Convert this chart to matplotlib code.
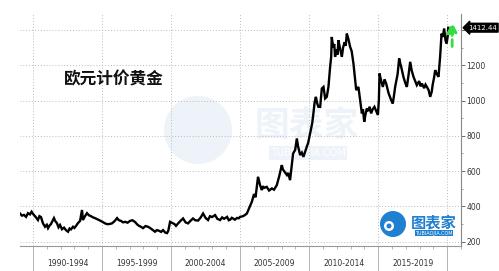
import matplotlib
matplotlib.use('Agg')
import matplotlib.pyplot as plt
from matplotlib.patches import Ellipse
from matplotlib.ticker import MultipleLocator

# EUR gold price (decimal year, price)
years = [1989.06, 1989.20, 1989.35, 1989.50, 1989.64, 1989.78, 1989.90, 1990.00, 1990.07, 1990.20,
         1990.36, 1990.47, 1990.58, 1990.72, 1990.87, 1991.00, 1991.09, 1991.20, 1991.30, 1991.42,
         1991.52, 1991.62, 1991.74, 1991.85, 1991.96, 1992.10, 1992.25, 1992.40, 1992.54, 1992.65,
         1992.75, 1992.90, 1993.00, 1993.12, 1993.26, 1993.41, 1993.50, 1993.55, 1993.62, 1993.77,
         1993.91, 1994.05, 1994.20, 1994.35, 1994.49, 1994.68, 1994.86, 1995.05, 1995.22, 1995.36,
         1995.51, 1995.72, 1995.90, 1996.09, 1996.22, 1996.38, 1996.52, 1996.67, 1996.85, 1997.03,
         1997.20, 1997.39, 1997.55, 1997.68, 1997.82, 1997.97, 1998.15, 1998.33, 1998.48, 1998.62,
         1998.75, 1998.84, 1998.98, 1999.13, 1999.28, 1999.42, 1999.58, 1999.71, 1999.80, 1999.93,
         2000.14, 2000.25, 2000.36, 2000.51, 2000.68, 2000.87, 2001.05, 2001.23, 2001.40, 2001.59,
         2001.75, 2001.96, 2002.15, 2002.32, 2002.50, 2002.68, 2002.82, 2002.97, 2003.19, 2003.35,
         2003.55, 2003.70, 2003.84, 2004.06, 2004.18, 2004.28, 2004.40, 2004.49, 2004.62, 2004.78,
         2004.90, 2005.00, 2005.22, 2005.36, 2005.49, 2005.65, 2005.85, 2006.01, 2006.12, 2006.21,
         2006.30, 2006.45, 2006.57, 2006.66, 2006.74, 2006.93, 2007.10, 2007.30, 2007.46, 2007.66,
         2007.83, 2008.02, 2008.10, 2008.19, 2008.39, 2008.48, 2008.62, 2008.75, 2008.84, 2008.99,
         2009.11, 2009.20, 2009.35, 2009.47, 2009.59, 2009.72, 2009.83, 2009.93, 2010.07, 2010.22,
         2010.31, 2010.40, 2010.49, 2010.58, 2010.67, 2010.80, 2010.92, 2011.04, 2011.16, 2011.28,
         2011.40, 2011.52, 2011.60, 2011.64, 2011.74, 2011.82, 2011.88, 2011.99, 2012.06, 2012.12,
         2012.25, 2012.37, 2012.46, 2012.57, 2012.65, 2012.73, 2012.84, 2012.97, 2013.08, 2013.21,
         2013.33, 2013.41, 2013.57, 2013.70, 2013.82, 2013.90, 2013.99, 2014.08, 2014.18, 2014.28,
         2014.38, 2014.49, 2014.60, 2014.73, 2014.86, 2014.98, 2015.05, 2015.10, 2015.22, 2015.34,
         2015.46, 2015.58, 2015.76, 2015.86, 2015.94, 2016.06, 2016.15, 2016.23, 2016.41, 2016.52,
         2016.60, 2016.67, 2016.83, 2016.96, 2017.08, 2017.21, 2017.32, 2017.43, 2017.56, 2017.68,
         2017.80, 2017.97, 2018.08, 2018.17, 2018.33, 2018.43, 2018.53, 2018.65, 2018.77, 2018.88,
         2018.95, 2019.05, 2019.13, 2019.25, 2019.37, 2019.49, 2019.59, 2019.68, 2019.78, 2019.88,
         2019.96, 2020.03, 2020.08]
prices = [360, 348, 352, 341, 362, 355, 370, 358, 352, 340,
          323, 345, 340, 305, 285, 296, 277, 292, 300, 318,
          334, 316, 305, 282, 295, 271, 280, 265, 257, 275,
          270, 285, 278, 290, 306, 318, 360, 380, 323, 345,
          362, 350, 345, 338, 334, 327, 320, 312, 304, 300,
          300, 304, 316, 334, 322, 318, 310, 313, 308, 318,
          322, 312, 298, 290, 285, 277, 289, 285, 278, 270,
          262, 257, 266, 262, 256, 266, 252, 249, 262, 313,
          304, 300, 290, 304, 318, 332, 310, 304, 318, 332,
          322, 320, 338, 360, 335, 323, 345, 340, 351, 330,
          323, 338, 330, 341, 322, 325, 336, 332, 325, 335,
          333, 341, 345, 352, 360, 389, 426, 470, 452, 511,
          568, 520, 493, 515, 505, 511, 490, 502, 495, 521,
          570, 634, 610, 600, 578, 590, 549, 640, 700, 720,
          785, 740, 691, 705, 681, 712, 738, 760, 813, 870,
          927, 990, 1021, 985, 964, 964, 1068, 1077, 1012, 1021,
          1077, 1190, 1250, 1360, 1300, 1320, 1247, 1290, 1260, 1342,
          1290, 1247, 1300, 1330, 1310, 1379, 1350, 1304, 1280, 1210,
          1120, 1059, 1077, 1000, 927, 950, 879, 920, 955, 940,
          965, 927, 950, 964, 940, 918, 1000, 1153, 1110, 1077,
          1120, 1096, 1040, 1020, 1002, 983, 1030, 1077, 1150, 1238,
          1210, 1190, 1134, 1100, 1077, 1150, 1219, 1170, 1134, 1110,
          1087, 1110, 1080, 1096, 1070, 1090, 1077, 1060, 1021, 1050,
          1090, 1130, 1172, 1150, 1134, 1250, 1379, 1360, 1408, 1340,
          1323, 1360, 1412]

last_label = '1412.44'
title = '欧元计价黄金'
periods = ['1990-1994', '1995-1999', '2000-2004', '2005-2009', '2010-2014', '2015-2019']
period_starts = [1990, 1995, 2000, 2005, 2010, 2015, 2020]
y_labels = [200, 400, 600, 800, 1000, 1200]

fig = plt.figure(figsize=(4.99, 2.71), dpi=100)
ax = fig.add_axes([20 / 499, 25 / 271, 441 / 499, 232 / 271])
ax.patch.set_alpha(0)

ax.plot(years, prices, color='black', lw=1.7, solid_joinstyle='miter')

ax.set_xlim(1989.06, 2021.0)
ax.set_ylim(176, 1490)

for s in ['left', 'top']:
    ax.spines[s].set_visible(False)
ax.spines['right'].set_color('#888888')
ax.spines['bottom'].set_color('#999999')
ax.spines['right'].set_linewidth(0.8)
ax.spines['bottom'].set_linewidth(0.8)

# y axis on the right
ax.yaxis.tick_right()
ax.set_yticks(y_labels + [1400])
ax.set_yticklabels([str(v) for v in y_labels] + [''])
ax.yaxis.set_minor_locator(MultipleLocator(100))
ax.tick_params(axis='y', which='major', length=3, width=0.6, color='#555555',
               labelsize=5.5, labelcolor='#333333', pad=1)
ax.tick_params(axis='y', which='minor', length=1.5, width=0.5, color='#777777')

# x axis: long separators at 5-year marks, small yearly ticks
ax.set_xticks(period_starts)
ax.set_xticklabels([])
ax.xaxis.set_minor_locator(MultipleLocator(1))
ax.tick_params(axis='x', which='major', length=19, width=0.6, color='#aaaaaa')
ax.tick_params(axis='x', which='minor', length=2, width=0.5, color='#999999')
for i, p in enumerate(periods):
    ax.text(period_starts[i] + 2.5, -0.055, p, transform=ax.get_xaxis_transform(),
            ha='center', va='top', fontsize=5.5, color='#333333')

ax.grid(True, which='major', color='#bbbbbb', linestyle=(0, (1, 2)), lw=0.7)

# last value tag
ax.annotate(last_label, xy=(1, 1412.44), xycoords=('axes fraction', 'data'),
            xytext=(5, 0), textcoords='offset points', ha='left', va='center',
            fontsize=5, color='white',
            bbox=dict(boxstyle='larrow,pad=0.2', fc='black', ec='black'),
            annotation_clip=False)

# green dashed up-arrow
ax.annotate('', xy=(2020.36, 1460), xytext=(2020.36, 1290),
            arrowprops=dict(arrowstyle='-|>,head_width=0.3,head_length=0.6',
                            color='#33dd44', lw=2.0, linestyle=(0, (2.5, 1.5))))

fig.text(64 / 499, 1 - 79 / 271, title, fontsize=12, fontweight='bold',
         family=['Noto Sans CJK SC', 'DejaVu Sans'], va='center', ha='left', color='#111111')

# faint watermark in the middle (behind the axes)
wm = '#edf3f9'
r_w = 34
fig.patches.append(Ellipse((198 / 499, 1 - 130 / 271), 2 * r_w / 499, 2 * r_w / 271,
                           transform=fig.transFigure, fc=wm, ec='none', zorder=-1))
fig.text(307 / 499, 1 - 125 / 271, '图表家', fontsize=25, fontweight='bold',
         family=['Noto Sans CJK SC', 'DejaVu Sans'], ha='center', va='center',
         color=wm, zorder=-1)
fig.text(308 / 499, 1 - 153 / 271, 'TUBIAOJIA.COM', fontsize=7, ha='center', va='center',
         color='white', zorder=-1,
         bbox=dict(boxstyle='square,pad=0.2', fc=wm, ec='none'))

# logo bottom right
r_l = 13
fig.patches.append(Ellipse((393 / 499, 1 - 224 / 271), 2 * r_l / 499, 2 * r_l / 271,
                           transform=fig.transFigure, fc='#1f7fd0', ec='none', zorder=3))
fig.patches.append(Ellipse((389 / 499, 1 - 226 / 271), 10 / 499, 10 / 271,
                           transform=fig.transFigure, fc='white', ec='none', zorder=4))
fig.patches.append(Ellipse((389 / 499, 1 - 226 / 271), 5 / 499, 5 / 271,
                           transform=fig.transFigure, fc='#1f7fd0', ec='none', zorder=5))
fig.text(434 / 499, 1 - 222 / 271, '图表家', fontsize=11, fontweight='bold',
         family=['Noto Sans CJK SC', 'DejaVu Sans'], ha='center', va='center',
         color='#1f7fd0', zorder=5)
fig.text(434 / 499, 1 - 233 / 271, 'TUBIAOJIA.COM', fontsize=3.5, ha='center', va='center',
         color='white', zorder=5,
         bbox=dict(boxstyle='square,pad=0.15', fc='#1f7fd0', ec='none'))

fig.savefig('out.png', dpi=100)
